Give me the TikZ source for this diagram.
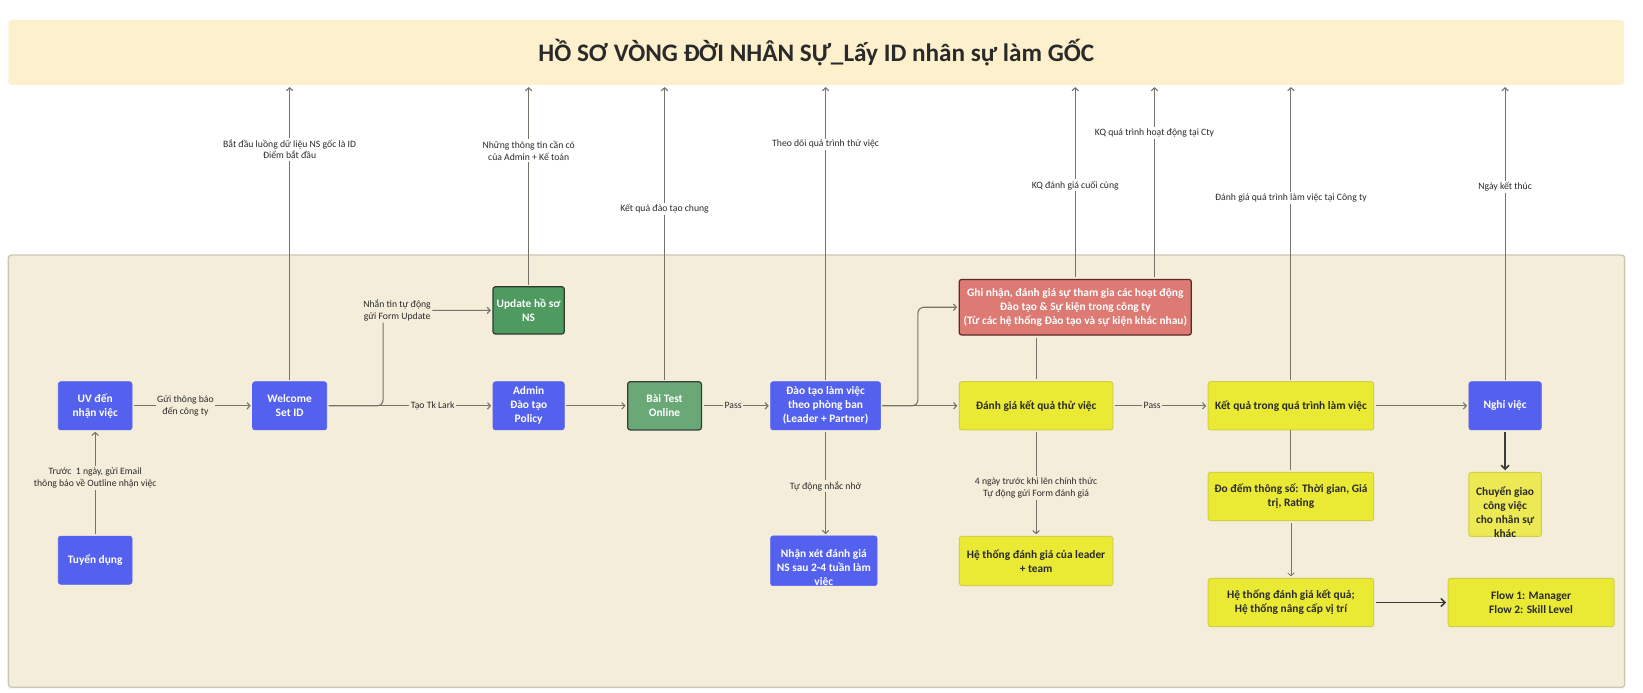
\documentclass[tikz,border=0pt]{standalone}
\usepackage{fontspec}
\setmainfont{Carlito}
\usetikzlibrary{arrows.meta,calc}
\definecolor{cblue}{HTML}{5461EE}
\definecolor{cdg}{HTML}{4E9A5F}
\definecolor{cdgb}{HTML}{2D3B2F}
\definecolor{clg}{HTML}{6BA877}
\definecolor{clgb}{HTML}{33413A}
\definecolor{cred}{HTML}{DC7A73}
\definecolor{credb}{HTML}{5E2A27}
\definecolor{cyel}{HTML}{EAEA35}
\definecolor{cyelb}{HTML}{D2CF45}
\definecolor{cyel2}{HTML}{ECE955}
\definecolor{cpanel}{HTML}{F4EDDA}
\definecolor{cpanelb}{HTML}{CCC6B4}
\definecolor{cban}{HTML}{FDF0CD}
\definecolor{clin}{HTML}{77736A}
\definecolor{cdark}{HTML}{3A3A3A}
\definecolor{ctxt}{HTML}{2A2A2A}
\begin{document}
\begin{tikzpicture}[x=1.0478pt,y=-1.0478pt,
  sz/.style 2 args={minimum width=#1*1.0478pt, minimum height=#2*1.0478pt},
  box/.style={rectangle, rounded corners=2.5pt, inner sep=1pt, align=center,
    font=\fontsize{11.4}{14}\selectfont\bfseries},
  boxtxt/.style={inner sep=0pt, align=center, font=\fontsize{11.4}{14}\selectfont\bfseries},
  bluebox/.style={box, fill=cblue, draw=cblue, line width=0.6pt, text=white},
  dgbox/.style={box, fill=cdg, draw=cdgb, line width=1.2pt, text=white},
  lgbox/.style={box, fill=clg, draw=clgb, line width=1.2pt, text=white},
  redbox/.style={box, fill=cred, draw=credb, line width=1.2pt, text=white},
  yelbox/.style={box, fill=cyel, draw=cyelb, line width=1pt, text=ctxt},
  yelbox2/.style={box, fill=cyel2, draw=cyelb, line width=1pt, text=ctxt},
  lbl/.style={fill=cpanel, inner sep=1.5pt, align=center, text=ctxt,
    font=\fontsize{9.7}{11.9}\selectfont},
  lblw/.style={lbl, fill=white},
  ln/.style={draw=clin, line width=1.1pt},
  arr/.style={ln, -{Straight Barb[length=3pt,width=6.5pt]}, shorten >=1.5pt, shorten <=1.5pt},
  arrk/.style={draw=cdark, line width=1.6pt, -{Straight Barb[length=4pt,width=8pt]}, shorten >=1.5pt, shorten <=1.5pt},
  banner/.style={rectangle, rounded corners=3pt, fill=cban, text=ctxt,
    font=\fontsize{25.2}{30}\selectfont\bfseries}
]
\useasboundingbox (0,0) rectangle (1568,661);

% banner and panel
\node[banner, sz={1542}{62}] (ban) at (779,50) {HỒ SƠ VÒNG ĐỜI NHÂN SỰ\_Lấy ID nhân sự làm GỐC};
\draw[fill=cpanel, draw=cpanelb, line width=1.4pt, rounded corners=3pt] (8,243.4) rectangle (1550.5,656);

% nodes
\node[bluebox, sz={70.4}{46}] (uv) at (90.8,387.3) {UV đến\\nhận việc};
\node[bluebox, sz={70.4}{46}] (td) at (90.8,534.6) {Tuyển dụng};
\node[bluebox, sz={70.8}{46}] (wel) at (276.4,387.3) {Welcome\\Set ID};
\node[dgbox, sz={68}{45.2}] (upd) at (504.5,296.2) {Update hồ sơ\\NS};
\node[bluebox, sz={68}{46}] (adm) at (504.5,387.3) {Admin\\Đào tạo\\Policy};
\node[lgbox, sz={70.4}{46}] (bt) at (634.2,387.3) {Bài Test\\Online};
\node[bluebox, sz={105}{46}] (dt) at (787.9,387.3) {Đào tạo làm việc\\theo phòng ban\\(Leader + Partner)};
\node[bluebox, sz={101.6}{47.5}] (nx) at (786.2,535.2) {};
\node[boxtxt, text=white] (nxt) at (786.2,542.5) {Nhận xét đánh giá\\NS sau 2-4 tuần làm\\việc};
\node[redbox, sz={221.5}{53.1}] (gn) at (1026.2,293.2) {Ghi nhận, đánh giá sự tham gia các hoạt động\\Đào tạo \& Sự kiện trong công ty\\(Từ các hệ thống Đào tạo và sự kiện khác nhau)};
\node[yelbox, sz={146.5}{46}] (dg) at (988.8,387.3) {Đánh giá kết quả thử việc};
\node[yelbox, sz={146.5}{47}] (ht) at (988.8,535.3) {Hệ thống đánh giá của leader\\+ team};
\node[yelbox, sz={158}{46}] (kq) at (1232,387.3) {Kết quả trong quá trình làm việc};
\node[bluebox, sz={69.2}{46}] (nv) at (1436.4,387.3) {Nghỉ việc};
\node[yelbox, sz={158}{46}] (dd) at (1232,473.8) {Đo đếm thông số: Thời gian, Giá\\trị, Rating};
\node[yelbox, sz={158}{46}] (hk) at (1232,575) {Hệ thống đánh giá kết quả;\\Hệ thống nâng cấp vị trí};
\node[yelbox, sz={158.5}{46}] (fl) at (1461.2,575) {Flow 1: Manager\\Flow 2: Skill Level};
\node[yelbox2, sz={69.2}{61.2}] (cg) at (1436.4,481.4) {};
\node[boxtxt, text=ctxt] (cgt) at (1436.4,489) {Chuyển giao\\công việc\\cho nhân sự\\khác};

% connectors inside panel
\draw[arr] (td.north) -- (90.8,456) node[lbl]{Trước\ \ 1 ngày, gửi Email\\thông báo về Outline nhận việc} -- (uv.south);
\draw[arr] (uv.east) -- (177,387.3) node[lbl]{Gửi thông báo\\đến công ty} -- (wel.west);
\draw[arr] (wel.east) -- (413,387.3) node[lbl]{Tạo Tk Lark} -- (adm.west);
\draw[arr, rounded corners=6pt] (wel.east) -- (365.6,387.3) -- (365.6,296.2) node[lbl, xshift=14pt]{Nhắn tin tự động\\gửi Form Update} -- (upd.west);
\draw[arr] (adm.east) -- (bt.west);
\draw[arr] (bt.east) -- (699.6,387.3) node[lbl]{Pass} -- (dt.west);
\draw[arr] (dt.east) -- (dg.west);
\draw[arr, rounded corners=6pt] (dt.east) -- (876,387.3) |- (gn.west);
\draw[ln, shorten <=2pt, shorten >=2pt] (dg.north |- gn.south) -- (dg.north);
\draw[arr] (dt.south) -- (787.9,463.8) node[lbl]{Tự động nhắc nhở} -- (dt.south |- nx.north);
\draw[arr] (dg.south) -- (988.8,465.7) node[lbl]{4 ngày trước khi lên chính thức\\Tự động gửi Form đánh giá} -- (ht.north);
\draw[arr] (dg.east) -- (1099.6,387.3) node[lbl]{Pass} -- (kq.west);
\draw[arr] (kq.east) -- (nv.west);
\draw[ln, shorten >=2pt] (kq.south) -- (dd.north);
\draw[arr, line width=0.8pt] (dd.south) -- (hk.north);
\draw[arrk] (hk.east) -- (fl.west);
\draw[arrk] (nv.south) -- (cg.north);

% upward connectors to banner
\draw[arr, shorten >=2pt] (wel.north) -- (276.4,142.4) node[lblw]{Bắt đầu luồng dữ liệu NS gốc là ID\\Điểm bắt đầu} -- (wel.north |- ban.south);
\draw[arr, shorten >=2pt] (upd.north) -- (504.5,143.7) node[lblw]{Những thông tin cần có\\của Admin + Kế toán} -- (upd.north |- ban.south);
\draw[arr, shorten >=2pt] (bt.north) -- (634.2,199.5) node[lblw]{Kết quả đào tạo chung} -- (bt.north |- ban.south);
\draw[arr, shorten >=2pt] (dt.north) -- (787.9,137.7) node[lblw]{Theo dõi quá trình thử việc} -- (dt.north |- ban.south);
\draw[arr, shorten >=2pt] (gn.north) -- (1026.2,177) node[lblw]{KQ đánh giá cuối cùng} -- (gn.north |- ban.south);
\draw[arr, shorten >=2pt] (1101.8,0 |- gn.north) -- (1101.8,127) node[lblw]{KQ quá trình hoạt động tại Cty} -- (1101.8,0 |- ban.south);
\draw[arr, shorten >=2pt] (kq.north) -- (1232,189) node[lblw]{Đánh giá quá trình làm việc tại Công ty} -- (kq.north |- ban.south);
\draw[arr, shorten >=2pt] (nv.north) -- (1436.4,178.5) node[lblw]{Ngày kết thúc} -- (nv.north |- ban.south);
\end{tikzpicture}
\end{document}
